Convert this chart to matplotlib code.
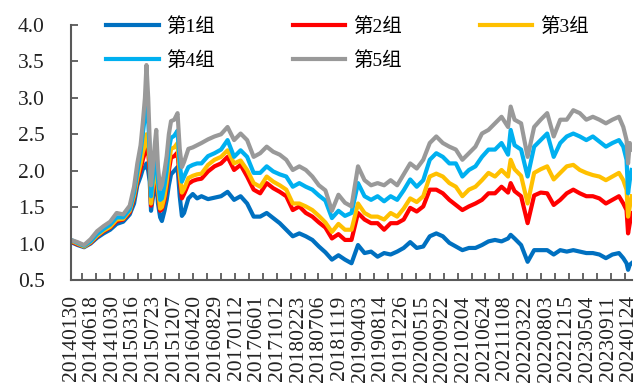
import matplotlib
matplotlib.use("Agg")
import matplotlib.pyplot as plt

plt.rcParams['font.family'] = ['Liberation Serif', 'Noto Sans CJK SC']

# trading-day index of each sampled point (0 = 20140130)
X_IDX = [0, 30, 60, 90, 120, 150, 180, 210, 240, 270, 290, 305, 320, 330, 340, 347, 355, 362,
         368, 375, 385, 392, 400, 410, 418, 430, 440, 450, 460, 475, 490, 500, 510, 520, 540, 560, 580,
         600, 630, 660, 690, 720, 750, 780, 810, 840, 870, 900, 930, 960, 990, 1020, 1050, 1080,
         1110, 1140, 1170,
         1200, 1230, 1260, 1290, 1320, 1350, 1380, 1410, 1440, 1470, 1500, 1530, 1560, 1590, 1620,
         1650, 1680, 1710, 1740,
         1770, 1800, 1830, 1860, 1890, 1920, 1950, 1980, 2010, 2022, 2040, 2070, 2100, 2130, 2160,
         2190, 2220, 2250,
         2280, 2310, 2340, 2370, 2400, 2430, 2460, 2490, 2520, 2540, 2555, 2562, 2570, 2578]

G1 = [1.02, 0.98, 0.95, 1.00, 1.08, 1.14, 1.19, 1.27, 1.30, 1.40, 1.55, 1.80, 1.92, 2.02, 2.05, 2.10, 2.00, 1.85,
      1.45, 1.60, 1.78, 1.90, 1.55, 1.36, 1.31, 1.45, 1.60, 1.80, 1.95, 2.00, 2.05, 1.65, 1.38, 1.42, 1.62, 1.68, 1.62,
      1.65, 1.61, 1.63, 1.65, 1.71, 1.60, 1.65, 1.55, 1.37, 1.37, 1.42, 1.35, 1.28, 1.19, 1.10, 1.14, 1.10,
      1.05, 0.96, 0.88,
      0.78, 0.84, 0.78, 0.73, 0.98, 0.87, 0.89, 0.82, 0.87, 0.85, 0.89, 0.94, 1.02, 0.94, 0.96,
      1.10, 1.14, 1.10, 1.01,
      0.96, 0.91, 0.94, 0.94, 0.98, 1.03, 1.05, 1.03, 1.07, 1.12, 1.07, 0.98, 0.75, 0.91, 0.91,
      0.91, 0.85, 0.91,
      0.89, 0.91, 0.89, 0.87, 0.87, 0.85, 0.80, 0.85, 0.87, 0.80, 0.73, 0.64, 0.71, 0.73]

G2 = [1.03, 0.99, 0.96, 1.01, 1.10, 1.17, 1.22, 1.31, 1.33, 1.43, 1.63, 1.86, 2.02, 2.15, 2.25, 2.35, 2.25, 2.00,
      1.52, 1.70, 1.90, 2.05, 1.70, 1.45, 1.47, 1.60, 1.78, 2.00, 2.18, 2.20, 2.25, 1.88, 1.62, 1.68, 1.82, 1.86, 1.88,
      1.89, 1.99, 2.06, 2.10, 2.19, 2.01, 2.08, 1.92, 1.74, 1.69, 1.83, 1.76, 1.71, 1.65, 1.46, 1.51, 1.42,
      1.37, 1.29, 1.22,
      1.07, 1.13, 1.05, 1.05, 1.42, 1.33, 1.28, 1.28, 1.19, 1.28, 1.28, 1.33, 1.49, 1.44, 1.51,
      1.74, 1.74, 1.69, 1.60,
      1.53, 1.46, 1.51, 1.55, 1.60, 1.69, 1.69, 1.78, 1.70, 1.83, 1.72, 1.65, 1.28, 1.66, 1.70,
      1.69, 1.53, 1.60,
      1.69, 1.74, 1.69, 1.65, 1.65, 1.62, 1.55, 1.60, 1.65, 1.55, 1.46, 1.14, 1.28, 1.42]

G3 = [1.04, 1.00, 0.96, 1.02, 1.11, 1.18, 1.23, 1.33, 1.34, 1.45, 1.66, 1.90, 2.10, 2.25, 2.35, 2.50, 2.40, 2.10,
      1.55, 1.75, 1.95, 2.15, 1.75, 1.48, 1.50, 1.65, 1.85, 2.10, 2.30, 2.32, 2.38, 1.95, 1.70, 1.75, 1.90, 1.93, 1.95,
      1.96, 2.08, 2.15, 2.19, 2.28, 2.10, 2.14, 2.01, 1.83, 1.78, 1.92, 1.85, 1.80, 1.74, 1.55, 1.55, 1.51,
      1.46, 1.38, 1.29,
      1.16, 1.27, 1.19, 1.19, 1.55, 1.42, 1.37, 1.37, 1.33, 1.42, 1.37, 1.48, 1.62, 1.57, 1.65,
      1.92, 1.96, 1.92, 1.83,
      1.78, 1.65, 1.74, 1.78, 1.87, 1.97, 1.92, 2.01, 1.92, 2.15, 2.02, 1.93, 1.55, 1.97, 2.02,
      2.06, 1.88, 1.97,
      2.06, 2.08, 2.01, 1.97, 1.94, 1.92, 1.87, 1.92, 1.97, 1.87, 1.74, 1.37, 1.51, 1.65]

G4 = [1.05, 1.01, 0.97, 1.03, 1.13, 1.20, 1.26, 1.36, 1.36, 1.47, 1.70, 1.98, 2.25, 2.50, 2.75, 2.88, 2.70, 2.25,
      1.65, 1.85, 2.10, 2.35, 1.85, 1.60, 1.62, 1.80, 2.00, 2.30, 2.45, 2.48, 2.55, 2.10, 1.85, 1.92, 2.05, 2.08, 2.10,
      2.10, 2.20, 2.24, 2.29, 2.42, 2.19, 2.28, 2.19, 1.97, 1.97, 2.06, 1.99, 1.95, 1.92, 1.78, 1.83, 1.78,
      1.74, 1.66, 1.59,
      1.35, 1.45, 1.38, 1.42, 1.83, 1.65, 1.60, 1.65, 1.58, 1.65, 1.60, 1.73, 1.88, 1.78, 1.87,
      2.15, 2.24, 2.19, 2.10,
      2.10, 1.92, 2.01, 2.06, 2.19, 2.29, 2.29, 2.38, 2.22, 2.56, 2.35, 2.29, 1.92, 2.33, 2.42,
      2.51, 2.19, 2.38,
      2.47, 2.51, 2.47, 2.42, 2.47, 2.40, 2.33, 2.38, 2.42, 2.33, 2.15, 1.69, 1.87, 2.01]

G5 = [1.05, 1.02, 0.98, 1.06, 1.17, 1.24, 1.30, 1.42, 1.40, 1.52, 1.78, 2.10, 2.35, 2.65, 3.00, 3.45, 3.00, 2.40,
      1.80, 2.00, 2.35, 2.56, 2.05, 1.75, 1.80, 2.00, 2.20, 2.50, 2.68, 2.70, 2.79, 2.30, 2.05, 2.12, 2.30, 2.32, 2.35,
      2.38, 2.43, 2.47, 2.50, 2.60, 2.42, 2.51, 2.42, 2.19, 2.24, 2.33, 2.26, 2.22, 2.15, 2.01, 2.06, 2.01,
      1.92, 1.80, 1.73,
      1.45, 1.67, 1.56, 1.51, 2.06, 1.87, 1.80, 1.83, 1.80, 1.87, 1.80, 1.95, 2.10, 2.03, 2.15,
      2.38, 2.47, 2.38, 2.33,
      2.29, 2.15, 2.24, 2.33, 2.51, 2.56, 2.65, 2.74, 2.60, 2.88, 2.70, 2.65, 2.19, 2.60, 2.70,
      2.79, 2.47, 2.70,
      2.70, 2.83, 2.79, 2.70, 2.74, 2.70, 2.65, 2.70, 2.74, 2.60, 2.42, 2.10, 2.38, 2.29]

TICK_LABELS = ["20140130", "20140618", "20141030", "20150316", "20150723", "20151207",
               "20160420", "20160829", "20170112", "20170601", "20171012", "20180223",
               "20180706", "20181119", "20190403", "20190814", "20191226", "20200515",
               "20200922", "20210204", "20210624", "20211108", "20220322", "20220803",
               "20221215", "20230504", "20230911", "20240124"]
LABEL_STEP = 95   # trading days between labels
MARK_STEP = 64    # trading days between tick marks

SERIES = [G1, G2, G3, G4, G5]
NAMES = ["第1组", "第2组", "第3组", "第4组", "第5组"]
COLORS = ["#0070C0", "#FF0000", "#FFC000", "#00B0F0", "#999999"]

fig = plt.figure(figsize=(6.42, 3.90), dpi=100)
ax = fig.add_axes([0.1106, 0.282, 0.8738, 0.654])

lines = []
for vals, name, c in zip(SERIES, NAMES, COLORS):
    ln, = ax.plot(X_IDX, vals, color=c, lw=3.0, label=name, solid_joinstyle='round')
    lines.append(ln)

ax.set_xlim(0, 2580)
ax.set_ylim(0.5, 4.0)
ax.set_yticks([0.5, 1.0, 1.5, 2.0, 2.5, 3.0, 3.5, 4.0])
ax.set_yticklabels([f"{v:.1f}" for v in ax.get_yticks()])

# tick marks and labels sit on different spacings
ax.xaxis.remove_overlapping_locs = False
ax.set_xticks(list(range(50, 2580, MARK_STEP)))
ax.set_xticklabels([])
ax.set_xticks([i * LABEL_STEP for i in range(len(TICK_LABELS))], TICK_LABELS, minor=True)
ax.tick_params(axis='x', which='minor', length=0, pad=11, rotation=90,
               labelsize=15.5, labelcolor='#222222')
ax.tick_params(axis='x', which='major', direction='in', length=5, width=1.3, color='#595959')
ax.tick_params(axis='y', direction='in', length=5, width=1.3, color='#595959',
               pad=19, labelsize=15.5, labelcolor='#222222')

for s in ['top', 'right']:
    ax.spines[s].set_visible(False)
for s in ['left', 'bottom']:
    ax.spines[s].set_color('#595959')
    ax.spines[s].set_linewidth(1.5)

order = [0, 3, 1, 4, 2]
fig.legend([lines[i] for i in order], [NAMES[i] for i in order], ncol=3,
           loc='upper left', bbox_to_anchor=(106 / 642, 1 - 17 / 390),
           frameon=False, borderpad=0, borderaxespad=0, handlelength=2.7,
           handletextpad=0.4, columnspacing=4.0, labelspacing=0.8, fontsize=14)

fig.savefig("out.png", dpi=100)
